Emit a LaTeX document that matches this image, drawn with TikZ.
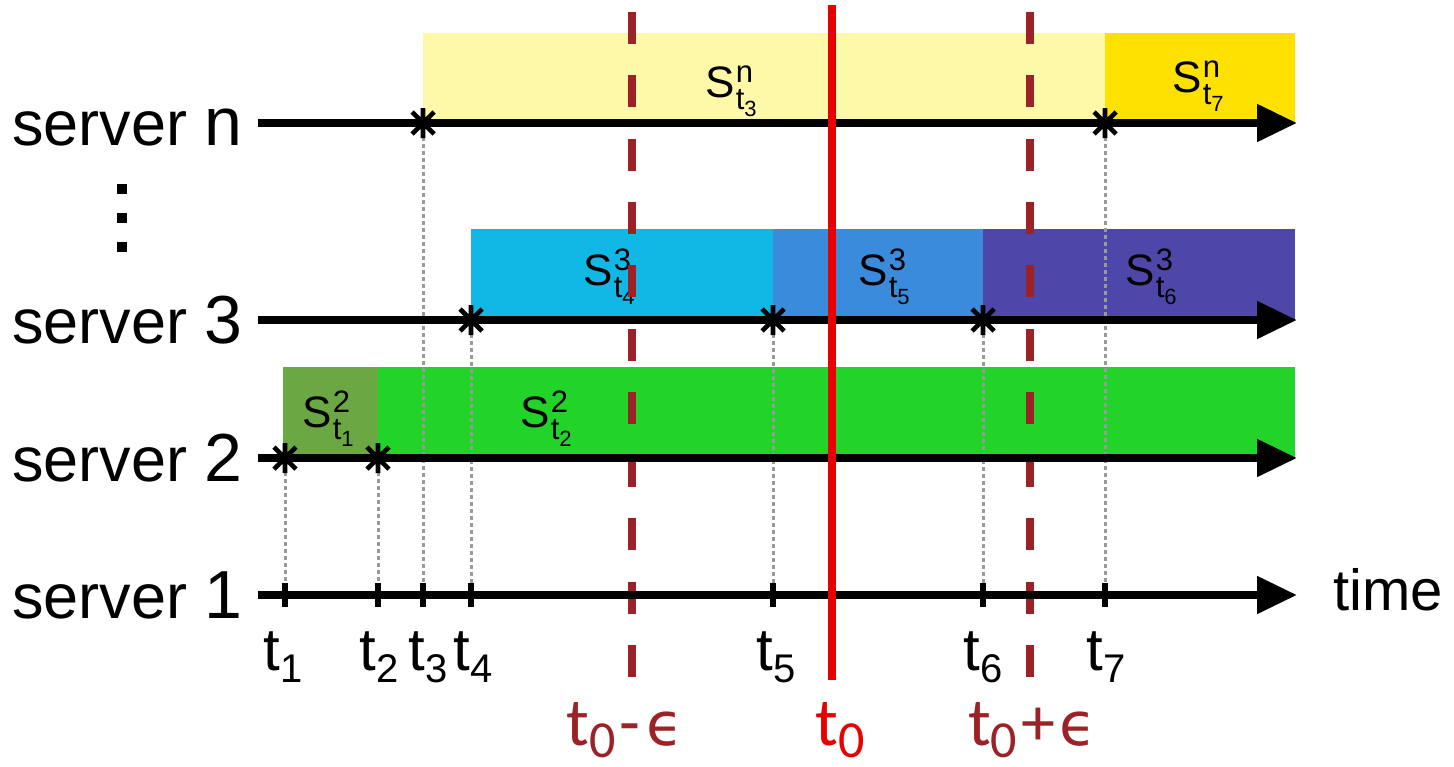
\documentclass[tikz,border=0pt]{standalone}
\usepackage{fontspec}
\setmainfont{Liberation Sans}
\newfontfamily\calib{Carlito}
\newfontfamily\dejav{DejaVu Sans}
\usetikzlibrary{arrows.meta}

\definecolor{dkred}{HTML}{9B2226}
\definecolor{tred}{HTML}{E60000}
\definecolor{ylight}{HTML}{FEF9A8}
\definecolor{ygold}{HTML}{FFE100}
\definecolor{cyanb}{HTML}{12B8E5}
\definecolor{midb}{HTML}{3A8BDC}
\definecolor{purp}{HTML}{4E47A9}
\definecolor{oliveg}{HTML}{6BA843}
\definecolor{brgreen}{HTML}{22D32A}
\definecolor{dotgray}{HTML}{9A9A9A}

\newcommand\fs[1]{\fontsize{#1}{#1}\selectfont}
\newcommand\Slab[2]{{\fs{22}S\kern0.5pt\rlap{\raisebox{7.5pt}{\fs{15.5}#1}}\raisebox{-6pt}{\fs{15.5}t\raisebox{-3.5pt}{\fs{11}#2}}}}
\newcommand\tlab[1]{{\fs{30}t\raisebox{-6pt}{\fs{20}#1}}}

\tikzset{
  axisline/.style={line width=4pt, -{Triangle[length=20pt,width=18pt]}},
  tick/.style={line width=3pt},
  guide/.style={dotgray, line width=1.5pt, dash pattern=on 2pt off 1.5pt},
  epsline/.style={dkred, line width=4pt, dash pattern=on 16pt off 15.65pt},
  zeroline/.style={tred, line width=4pt},
  slab/.style={anchor=base west, inner sep=0pt},
  tl/.style={anchor=base, inner sep=0pt},
  srv/.style={anchor=base east, inner sep=0pt},
  evstar/.pic={\draw[line width=2.3pt] (0,-15)--(0,15) (-11,-11)--(11,11) (-11,11)--(11,-11);}
}

\begin{document}
\begin{tikzpicture}[x=0.5pt,y=-0.5pt]
\useasboundingbox (0,0) rectangle (1454,766);

% colored state rectangles
\fill[ylight] (423,33) rectangle (1105,123);
\fill[ygold] (1105,33) rectangle (1295,123);
\fill[cyanb] (471,229) rectangle (773,320);
\fill[midb] (773,229) rectangle (983,320);
\fill[purp] (983,229) rectangle (1295,320);
\fill[oliveg] (283,367) rectangle (378,458);
\fill[brgreen] (378,367) rectangle (1295,458);

% state labels
\node[slab] (snt3) at (705,97) {\Slab{n}{3}};
\node[slab] (snt7) at (1172,92) {\Slab{n}{7}};
\node[slab] (s3t4) at (583,285) {\Slab{3}{4}};
\node[slab] (s3t5) at (858,285) {\Slab{3}{5}};
\node[slab] (s3t6) at (1125,285) {\Slab{3}{6}};
\node[slab] (s2t1) at (302,427) {\Slab{2}{1}};
\node[slab] (s2t2) at (520,427) {\Slab{2}{2}};

% axis coordinates
\coordinate (an0) at (258,123); \coordinate (an1) at (1297,123);
\coordinate (a30) at (258,320); \coordinate (a31) at (1297,320);
\coordinate (a20) at (258,458); \coordinate (a21) at (1297,458);
\coordinate (a10) at (258,595); \coordinate (a11) at (1297,595);

% event points
\coordinate (e1) at (285,458);  \coordinate (b1) at (285,595);
\coordinate (e2) at (378,458);  \coordinate (b2) at (378,595);
\coordinate (e3) at (423,123);  \coordinate (b3) at (423,595);
\coordinate (e4) at (471,320);  \coordinate (b4) at (471,595);
\coordinate (e5) at (773,320);  \coordinate (b5) at (773,595);
\coordinate (e6) at (983,320);  \coordinate (b6) at (983,595);
\coordinate (e7) at (1105,123); \coordinate (b7) at (1105,595);

% guides
\foreach \i in {1,...,7} {\draw[guide] (e\i) -- (b\i);}

% dashed epsilon lines (under server-1 axis)
\coordinate (m0) at (632,12); \coordinate (m1) at (632,677);
\coordinate (p0) at (1030,12); \coordinate (p1) at (1030,677);
\draw[epsline] (m0) -- (m1);
\draw[epsline] (p0) -- (p1);

% axes
\draw[axisline] (an0) -- (an1);
\draw[axisline] (a30) -- (a31);
\draw[axisline] (a20) -- (a21);
\draw[axisline] (a10) -- (a11);

% t0 line
\coordinate (z0) at (832,5); \coordinate (z1) at (832,680);
\draw[zeroline] (z0) -- (z1);

% ticks on server 1
\foreach \x in {285,378,423,471,773,983,1105} {\draw[tick] (\x,583) -- (\x,607);}

% stars
\foreach \i in {1,...,7} {\pic at (e\i) {evstar};}

% tick labels
\node[tl] (lt1) at (283,670) {\tlab{1}};
\node[tl] (lt2) at (379,670) {\tlab{2}};
\node[tl] (lt3) at (428,670) {\tlab{3}};
\node[tl] (lt4) at (473,670) {\tlab{4}};
\node[tl] (lt5) at (776,670) {\tlab{5}};
\node[tl] (lt6) at (983,670) {\tlab{6}};
\node[tl] (lt7) at (1106,670) {\tlab{7}};

\node[anchor=base west, inner sep=0pt] (time) at (1333,610) {\fs{29}time};

% server labels
\node[srv] (srvn) at (243,145) {\fs{31.5}server \fs{34}n};
\node[srv] (srv3) at (243,343) {\fs{31.5}server \fs{34}3};
\node[srv] (srv2) at (243,481) {\fs{31.5}server \fs{34}2};
\node[srv] (srv1) at (243,618) {\fs{31.5}server \fs{34}1};

% vertical dots
\foreach \y in {184,213,242} {\fill (117,\y) rectangle +(10,10);}

% bottom labels
\node[tl, text=dkred] (lm) at (625,745) {\calib\fs{34}t\raisebox{-6pt}{\fs{26}0}\kern2pt-\kern3pt{\dejav\fs{30}ϵ}};
\node[tl, text=tred] (l0) at (840,745) {\calib\fs{34}t\raisebox{-6pt}{\fs{26}0}};
\node[tl, text=dkred] (lp) at (1032,745) {\calib\fs{34}t\raisebox{-6pt}{\fs{26}0}\kern2pt+\kern2pt{\dejav\fs{30}ϵ}};
\end{tikzpicture}
\end{document}
